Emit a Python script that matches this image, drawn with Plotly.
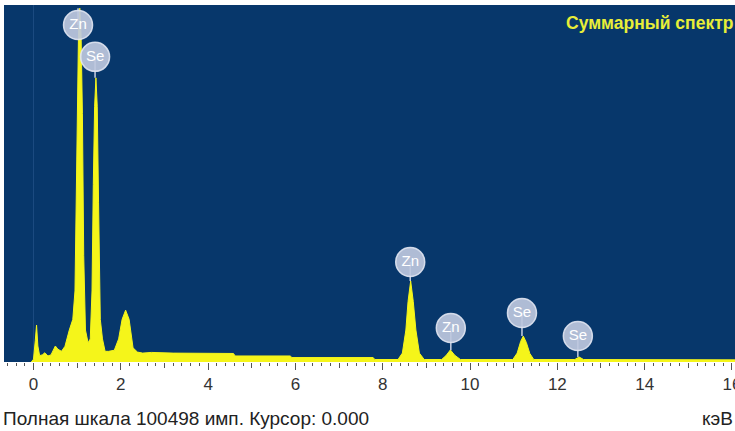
import plotly.graph_objects as go

# Spectrum vertices (energy in keV, counts)
energy_kev = [-0.05, 0.0, 0.04, 0.07, 0.10, 0.14, 0.20, 0.26, 0.33, 0.40, 0.50, 0.56, 0.64,
              0.72, 0.82, 0.90, 0.95, 0.98, 1.00, 1.03, 1.06, 1.09, 1.12, 1.15, 1.19, 1.25,
              1.30, 1.34, 1.37, 1.40, 1.43, 1.46, 1.49, 1.53, 1.58, 1.64, 1.72, 1.85, 1.95,
              2.03, 2.11, 2.19, 2.28, 2.38, 2.50, 2.70, 3.20, 4.00, 4.58, 4.62, 5.20, 5.88,
              5.92, 7.00, 7.78, 7.82, 8.35, 8.45, 8.53, 8.58, 8.64, 8.70, 8.76, 8.84, 8.95,
              9.35, 9.45, 9.55, 9.65, 9.78, 10.98, 11.08, 11.16, 11.22, 11.29, 11.37, 11.46,
              12.40, 12.50, 12.60, 14.00, 16.10]
counts = [0, 800, 6000, 10400, 4500, 1800, 2000, 2600, 1700, 2000, 4500, 3600, 3000,
          4400, 9000, 12000, 20000, 45000, 75000, 92000, 99600, 92000, 70000, 30000, 9000, 5400,
          6500, 20000, 50000, 72000, 80000, 72000, 45000, 12000, 6500, 3000, 3000, 3300, 6500,
          12000, 14600, 12000, 4000, 2800, 2500, 2700, 2500, 2400, 2400, 1700, 1700, 1700,
          1250, 1250, 1250, 700, 700, 2500, 9000, 17000, 22800, 17000, 9000, 2500, 700,
          700, 1800, 3400, 1900, 700, 700, 2500, 5800, 7300, 5500, 2400, 700,
          700, 1400, 700, 650, 600]

# Element marker labels (position of circle, peak top for the stem)
label_text = ["Zn", "Se", "Zn", "Zn", "Se", "Se"]
label_x = [1.02, 1.41, 8.63, 9.56, 11.19, 12.47]
label_y = [94850, 85900, 28150, 9570, 13800, 7320]
label_peak = [99600, 80000, 22800, 3400, 7300, 1400]

full_scale = 100498
x_major = [0, 2, 4, 6, 8, 10, 12, 14, 16]
x_mid = [1, 3, 5, 7, 9, 11, 13, 15]

fig = go.Figure()

fig.add_trace(go.Scatter(
    x=energy_kev, y=counts, mode="lines", fill="tozeroy",
    line=dict(color="#f5f51a", width=1), fillcolor="#f5f51a",
    hoverinfo="skip", showlegend=False))

# stems
stem_x, stem_y = [], []
for lx, ly, pk in zip(label_x, label_y, label_peak):
    stem_x += [lx, lx, None]
    stem_y += [ly, pk, None]
fig.add_trace(go.Scatter(x=stem_x, y=stem_y, mode="lines",
                         line=dict(color="#c8d0e2", width=1.5),
                         hoverinfo="skip", showlegend=False))

fig.add_trace(go.Scatter(
    x=label_x, y=label_y, mode="markers+text", text=label_text,
    textposition="middle center",
    textfont=dict(color="white", size=15, family="Liberation Sans, Arial"),
    marker=dict(size=29, color="rgba(190,200,222,0.92)",
                line=dict(color="rgba(225,230,242,0.9)", width=1.5)),
    hoverinfo="skip", showlegend=False))

# odd-integer medium ticks on an overlaying axis
fig.add_trace(go.Scatter(x=[None], y=[None], xaxis="x2", showlegend=False, hoverinfo="skip"))

fig.update_layout(
    width=735, height=431,
    margin=dict(l=4, r=0, t=5, b=69, autoexpand=False),
    paper_bgcolor="white", plot_bgcolor="#07376b",
    xaxis=dict(range=[-0.676, 16.07], tickvals=x_major, ticks="outside", ticklen=7,
               tickcolor="#555", tickwidth=1, showgrid=False, automargin=False,
               zeroline=True, zerolinecolor="#1b4a80", zerolinewidth=1,
               tickfont=dict(family="Liberation Sans, Arial", size=17, color="#333"),
               ticklabeloverflow="allow",
               minor=dict(dtick=0.2, tick0=0, ticks="outside", ticklen=3,
                          tickcolor="#555", tickwidth=1, showgrid=False),
               showline=False, fixedrange=True),
    xaxis2=dict(range=[-0.676, 16.07], overlaying="x", side="bottom", anchor="y",
                tickvals=x_mid, ticks="outside", ticklen=5, tickcolor="#555",
                automargin=False,
                showticklabels=False, showgrid=False, zeroline=False),
    yaxis=dict(range=[0, full_scale], showticklabels=False, showgrid=False,
               zeroline=False, ticks="", fixedrange=True, automargin=False),
    annotations=[
        dict(text="<b>Суммарный спектр</b>", xref="paper", yref="paper", x=1.0, y=0.95,
             xanchor="right", yanchor="middle", showarrow=False,
             font=dict(family="Liberation Sans, Arial", size=17.5, color="#e8ee38")),
        dict(text="Полная шкала 100498 имп. Курсор: 0.000", xref="paper", yref="paper",
             x=-0.004, y=-0.157, xanchor="left", yanchor="middle", showarrow=False,
             font=dict(family="Liberation Sans, Arial", size=19, color="#222")),
        dict(text="кэВ", xref="paper", yref="paper", x=1.0, y=-0.157,
             xanchor="right", yanchor="middle", showarrow=False,
             font=dict(family="Liberation Sans, Arial", size=19, color="#222")),
    ],
)

fig.write_html("out.html", config={"displayModeBar": False},
               post_script="document.body.style.margin='0';document.body.style.overflow='hidden';")
